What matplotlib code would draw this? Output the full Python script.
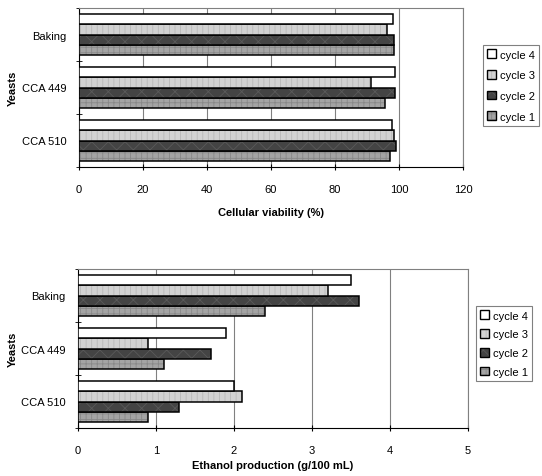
import matplotlib
matplotlib.use("Agg")
import matplotlib.pyplot as plt
import numpy as np

plt.rcParams['font.family'] = ['Liberation Sans', 'DejaVu Sans']
plt.rcParams['hatch.linewidth'] = 0.6

yeasts = ["CCA 510", "CCA 449", "Baking"]
cycles = ["cycle 1", "cycle 2", "cycle 3", "cycle 4"]

viability = {
    "cycle 1": [97.3, 95.7, 98.4],
    "cycle 2": [99.2, 98.7, 98.4],
    "cycle 3": [98.3, 91.4, 96.1],
    "cycle 4": [97.9, 98.7, 98.2],
}
ethanol = {
    "cycle 1": [0.9, 1.1, 2.4],
    "cycle 2": [1.3, 1.7, 3.6],
    "cycle 3": [2.1, 0.9, 3.2],
    "cycle 4": [2.0, 1.9, 3.5],
}

styles = {
    "cycle 1": dict(facecolor="#a4a4a4", hatch="+++", hatchcolor="#888888"),
    "cycle 2": dict(facecolor="#444444", hatch="xx", hatchcolor="#5a5a5a"),
    "cycle 3": dict(facecolor="#d2d2d2", hatch="|||", hatchcolor="#b8b8b8"),
    "cycle 4": dict(facecolor="#ffffff", hatch="", hatchcolor="#ffffff"),
}

fig = plt.figure(figsize=(5.42, 4.77), dpi=100)
W, H = 542, 477

def make_axes(rect_px):
    l, t, r, b = rect_px
    return fig.add_axes([l / W, 1 - b / H, (r - l) / W, (b - t) / H])

def draw(ax, rect_px, data, xmax, xstep, xlabel, xlabel_y, legend_px, lspace):
    l0, t0, r0, b0 = rect_px
    n = len(yeasts)
    y = np.arange(n)
    bh = 0.19
    offsets = {"cycle 1": -1.5 * bh, "cycle 2": -0.5 * bh, "cycle 3": 0.5 * bh, "cycle 4": 1.5 * bh}
    handles = []
    for c in cycles:
        st = styles[c]
        bars = ax.barh(y + offsets[c], data[c], height=bh, facecolor=st["facecolor"],
                       hatch=st["hatch"], edgecolor="#000000", linewidth=1.1, label=c, zorder=3)
        for p in bars:
            p._hatch_color = matplotlib.colors.to_rgba(st["hatchcolor"])
        handles.append(bars)
    ax.set_xlim(0, xmax)
    ax.set_ylim(-0.5, n - 0.5)
    ax.set_xticks(np.arange(0, xmax + 0.001, xstep))
    ax.set_yticks(y)
    ax.set_yticklabels(yeasts)
    ax.tick_params(axis='y', which='major', length=0, labelsize=8, pad=9)
    ax.set_yticks(np.arange(-0.5, n, 1.0), minor=True)
    ax.tick_params(axis='y', which='minor', length=5, direction='inout', color='black')
    ax.tick_params(axis='x', length=5, direction='inout', labelsize=8, color='black', pad=10)
    ax.grid(axis='x', color='#808080', linewidth=0.8, zorder=0)
    for s in ["top", "right"]:
        ax.spines[s].set_color('#808080')
    ax.spines["bottom"].set_color('black')
    ax.spines["left"].set_color('black')
    ax.set_xlabel(xlabel, fontsize=8, fontweight='bold')
    ax.xaxis.label.set_va('center')
    ax.xaxis.set_label_coords(0.5, -(xlabel_y - b0) / (b0 - t0))
    ax.set_ylabel("Yeasts", fontsize=8, fontweight='bold')
    ax.yaxis.label.set_va('center')
    ax.yaxis.set_label_coords((13 - l0) / (r0 - l0), 0.5)
    l, t, r, b = legend_px
    leg = fig.legend(handles[::-1], cycles[::-1], loc='upper left',
                     bbox_to_anchor=(l / W, 1 - t / H), fontsize=8, frameon=True,
                     fancybox=False, edgecolor='#606060', handlelength=0.8, handleheight=0.8,
                     handletextpad=0.3, labelspacing=lspace, borderpad=0.4, borderaxespad=0)
    leg.get_frame().set_linewidth(0.8)
    for h in leg.legend_handles:
        h.set_linewidth(1.0)

r1 = (79, 9, 463, 168)
ax1 = make_axes(r1)
draw(ax1, r1, viability, 120, 20, "Cellular viability (%)", 213, (483, 46, 540, 124), 0.95)
r2 = (78, 270, 468, 429)
ax2 = make_axes(r2)
draw(ax2, r2, ethanol, 5, 1, "Ethanol production (g/100 mL)", 466, (476, 307, 535, 378), 0.78)

fig.savefig("out.png", dpi=100)
